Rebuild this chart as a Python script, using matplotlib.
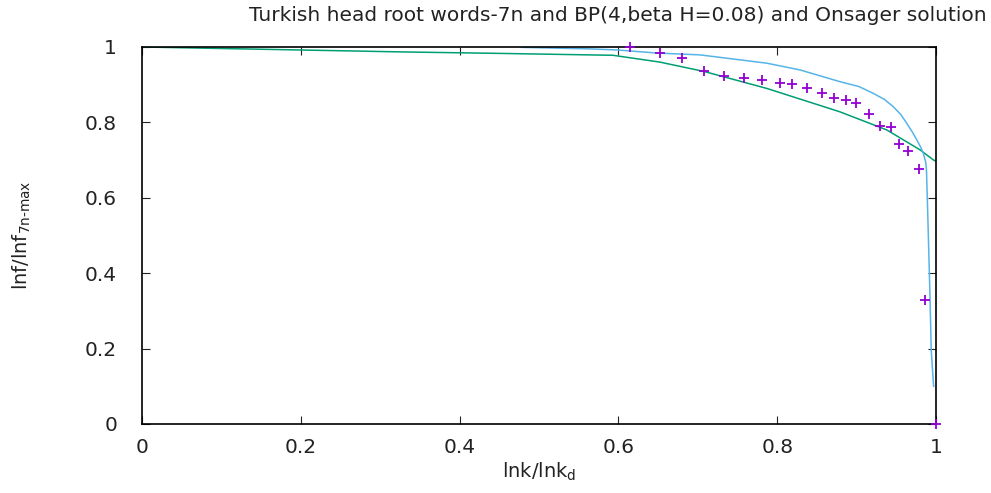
import numpy as np
import matplotlib.pyplot as plt

# Turkish head root words (7n) data points
data_x = [0.615, 0.652, 0.680, 0.708, 0.733, 0.758, 0.781, 0.803, 0.819, 0.838,
          0.857, 0.871, 0.887, 0.899, 0.915, 0.929, 0.943, 0.954, 0.965, 0.978,
          0.986, 1.0]
data_y = [1.0, 0.985, 0.970, 0.935, 0.923, 0.917, 0.912, 0.904, 0.901, 0.890,
          0.877, 0.864, 0.859, 0.851, 0.822, 0.790, 0.789, 0.742, 0.725, 0.676,
          0.329, 0.0]

# BP(4, beta H=0.08) curve
bp_x = [0.0, 0.2, 0.325, 0.45, 0.593, 0.652, 0.708, 0.787, 0.879, 0.938, 0.980, 0.997, 1.0]
bp_y = [1.0, 0.992, 0.987, 0.983, 0.978, 0.960, 0.935, 0.890, 0.828, 0.780, 0.727, 0.700, 0.697]

# Onsager solution
ons_x = [0.478, 0.564, 0.599, 0.648, 0.703, 0.787, 0.829, 0.879, 0.903, 0.921, 0.935,
         0.946, 0.956, 0.963, 0.970, 0.976, 0.981, 0.984, 0.987, 0.988, 0.989, 0.992,
         0.994, 0.997]
ons_y = [0.999, 0.995, 0.992, 0.984, 0.979, 0.957, 0.939, 0.908, 0.895, 0.877, 0.861,
         0.842, 0.820, 0.798, 0.775, 0.753, 0.733, 0.718, 0.695, 0.674, 0.603, 0.373,
         0.196, 0.10]

fig = plt.figure(figsize=(9.91, 4.93), dpi=100)
ax = fig.add_axes([0.1433, 0.140, 0.8012, 0.7647])

ax.plot(data_x, data_y, '+', color='#9400d3', ms=7.5, mew=1.3, clip_on=False, zorder=3)
ax.plot(bp_x, bp_y, '-', color='#009e73', lw=1.1)
ax.plot(ons_x, ons_y, '-', color='#56b4e9', lw=1.1)

ax.set_xlim(0, 1)
ax.set_ylim(0, 1)
ax.set_xticks([0, 0.2, 0.4, 0.6, 0.8, 1])
ax.set_xticklabels(['0', '0.2', '0.4', '0.6', '0.8', '1'])
ax.set_yticks([0, 0.2, 0.4, 0.6, 0.8, 1])
ax.set_yticklabels(['0', '0.2', '0.4', '0.6', '0.8', '1'])
ax.tick_params(direction='in', top=True, right=True, length=6, labelsize=14.5, colors='#222222')
ax.tick_params(axis='x', pad=10)
ax.tick_params(axis='y', pad=18)
for s in ax.spines.values():
    s.set_linewidth(1.2)

ax.set_xlabel(r'lnk/lnk$_{\mathregular{d}}$', fontsize=14, color='#222222')
ax.xaxis.set_label_coords(0.5, -0.098)
ax.set_ylabel(r'lnf/lnf$_{\mathregular{7n\text{-}max}}$', fontsize=14, color='#222222')
ax.yaxis.set_label_coords(-0.137, 0.5)
fig.text(0.623, 0.968, 'Turkish head root words-7n and BP(4,beta H=0.08) and Onsager solution',
         ha='center', va='center', fontsize=14.5, color='#222222')

fig.savefig('out.png', dpi=100)
